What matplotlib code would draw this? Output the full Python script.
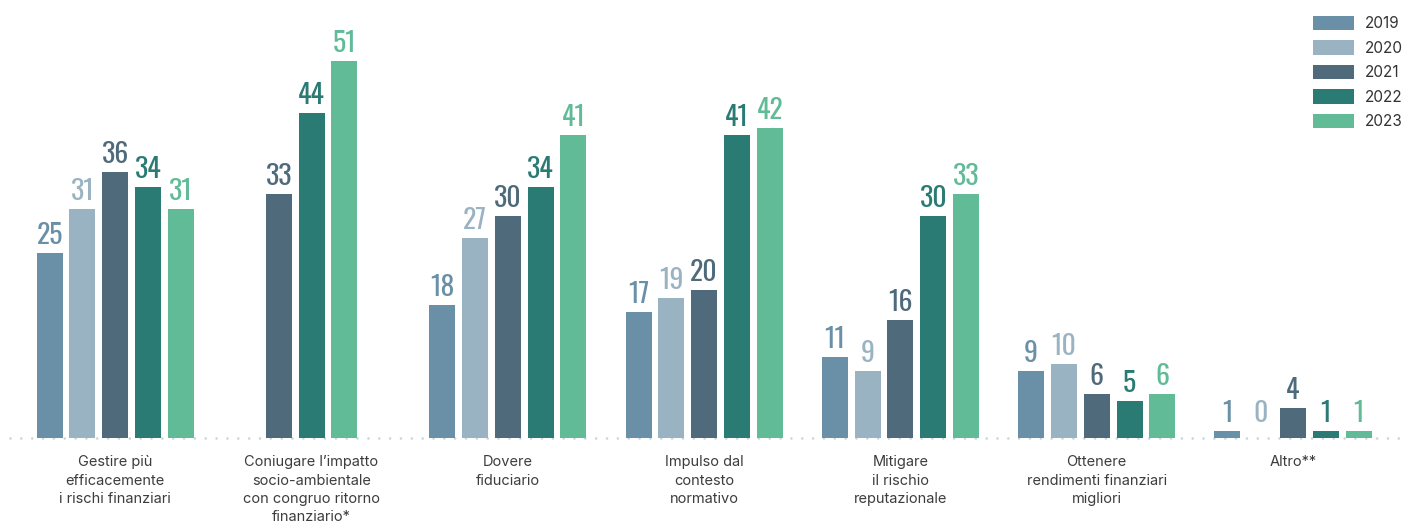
import matplotlib
matplotlib.use("Agg")
import matplotlib.pyplot as plt
import numpy as np
from matplotlib.patches import Patch

# --- data -------------------------------------------------------------
categories = [
    "Gestire più\nefficacemente\ni rischi finanziari",
    "Coniugare l’impatto\nsocio-ambientale\ncon congruo ritorno\nfinanziario*",
    "Dovere\nfiduciario",
    "Impulso dal\ncontesto\nnormativo",
    "Mitigare\nil rischio\nreputazionale",
    "Ottenere\nrendimenti finanziari\nmigliori",
    "Altro**",
]
years = ["2019", "2020", "2021", "2022", "2023"]
v2019 = [25, None, 18, 17, 11, 9, 1]
v2020 = [31, None, 27, 19, 9, 10, 0]
v2021 = [36, 33, 30, 20, 16, 6, 4]
v2022 = [34, 44, 34, 41, 30, 5, 1]
v2023 = [31, 51, 41, 42, 33, 6, 1]
series = [v2019, v2020, v2021, v2022, v2023]
colors = ["#6990A7", "#9AB3C2", "#4E6A7B", "#2B7B75", "#61BB97"]

# --- layout -----------------------------------------------------------
W, H, DPI = 1402, 525, 100
fig = plt.figure(figsize=(W / DPI, H / DPI), dpi=DPI)
base_px = 87  # baseline height from the bottom edge, pixels
ax = fig.add_axes([0, base_px / H, 1, 1 - base_px / H])

px_per_group = 196.3
x0_px = 115.2
ax.set_xlim(-x0_px / px_per_group, (W - x0_px) / px_per_group)
px_per_unit = 7.39
ax.set_ylim(0, (H - base_px) / px_per_unit)

bar_w = 26 / px_per_group
step = 32.8 / px_per_group

label_font = ["Inter", "DejaVu Sans"]
value_font = ["Oswald", "DejaVu Sans"]

for gi in range(len(categories)):
    present = [si for si in range(len(series)) if series[si][gi] is not None]
    k = len(present)
    for j, si in enumerate(present):
        v = series[si][gi]
        x = gi + (j - (k - 1) / 2) * step
        ax.bar(x, v, width=bar_w, color=colors[si], zorder=3, linewidth=0)
        ax.annotate(str(v), xy=(x, max(v, 1)), xytext=(0, 6.5),
                    textcoords="offset points", ha="center", va="baseline",
                    fontsize=20, color=colors[si], family=value_font)

handles = [Patch(facecolor=colors[si], edgecolor="none", label=y)
           for si, y in enumerate(years)]

# dotted baseline
ax.axhline(0, xmin=10 / W, xmax=1400 / W, color="#C9D4DD", linewidth=1.9,
           linestyle=(0, (0.01, 4.1)), dash_capstyle="round", zorder=1,
           clip_on=False)

ax.set_xticks(range(len(categories)))
ax.set_xticklabels(categories, fontsize=10.5, color="#3d3d3d", family=label_font,
                   linespacing=1.38)
ax.tick_params(axis="x", length=0, pad=12.5)
ax.set_yticks([])
for s in ax.spines.values():
    s.set_visible(False)
ax.patch.set_alpha(0)

fig.legend(handles=handles, loc="upper left",
           bbox_to_anchor=(1313 / W, 1 - 16 / H), frameon=False,
           prop={"family": label_font, "size": 11},
           handlelength=2.7, handleheight=1.05, labelspacing=0.6,
           handletextpad=0.72, borderpad=0, borderaxespad=0,
           labelcolor="#333333")

fig.savefig("out.png", dpi=DPI)
